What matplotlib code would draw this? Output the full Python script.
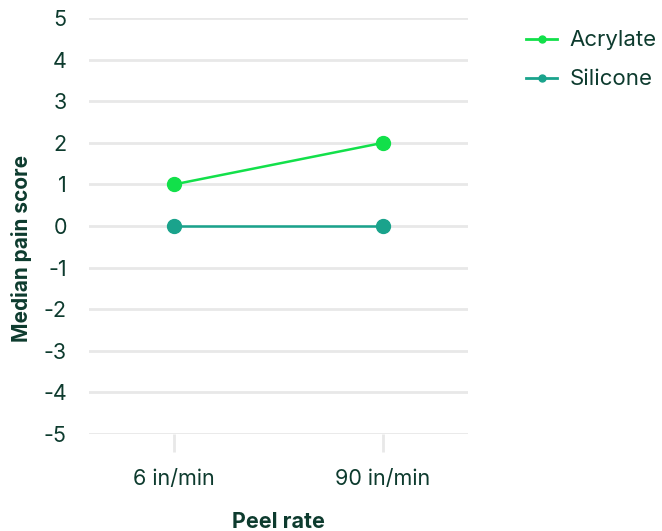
import matplotlib
matplotlib.use("Agg")
import matplotlib.pyplot as plt
from matplotlib.lines import Line2D

categories = ["6 in/min", "90 in/min"]
acrylate = [1, 2]
silicone = [0, 0]
yticks = list(range(-5, 6))

text_color = "#0d3b2e"
grid_color = "#e8e8e8"
acrylate_color = "#12e04a"
silicone_color = "#1aa38c"

plt.rcParams["font.family"] = ["Inter", "DejaVu Sans"]

fig = plt.figure(figsize=(6.62, 5.31), dpi=100)
ax = fig.add_axes([0.1344, 0.1827, 0.5725, 0.7833])

x = list(range(len(categories)))
ax.plot(x, acrylate, color=acrylate_color, linewidth=1.8, marker="o",
        markersize=10, label="Acrylate", zorder=3)
ax.plot(x, silicone, color=silicone_color, linewidth=1.8, marker="o",
        markersize=10, label="Silicone", zorder=3)

ax.set_ylim(-5, 5)
ax.set_xlim(-0.407, 1.407)
ax.set_yticks(yticks)
ax.set_yticklabels([str(v) for v in yticks])
ax.set_xticks(x)
ax.set_xticklabels(categories)

ax.grid(axis="y", color=grid_color, linewidth=2)
ax.set_axisbelow(True)
for s in ax.spines.values():
    s.set_visible(False)

ax.tick_params(axis="y", length=0, pad=16, labelsize=15.5, labelcolor=text_color)
ax.tick_params(axis="x", length=13, width=2, color=grid_color, pad=12,
               labelsize=15.5, labelcolor=text_color)

ax.set_xlabel("Peel rate", fontsize=15.5, fontweight="bold", color=text_color,
              labelpad=17)
ax.set_ylabel("Median pain score", fontsize=15, fontweight="bold",
              color=text_color)
# label sits a bit below the axes centre in the original
ax.yaxis.set_label_coords(-0.150, 0.447)

handles = [
    Line2D([0], [0], color=acrylate_color, linewidth=2, marker="o", markersize=5),
    Line2D([0], [0], color=silicone_color, linewidth=2, marker="o", markersize=5),
]
leg = fig.legend(handles, ["Acrylate", "Silicone"], loc="upper left",
                 bbox_to_anchor=(0.771, 0.972), frameon=False, fontsize=16,
                 handlelength=1.4, labelspacing=0.85, handletextpad=0.55,
                 borderpad=0.2)
for t in leg.get_texts():
    t.set_color(text_color)

fig.savefig("out.png", dpi=100)
